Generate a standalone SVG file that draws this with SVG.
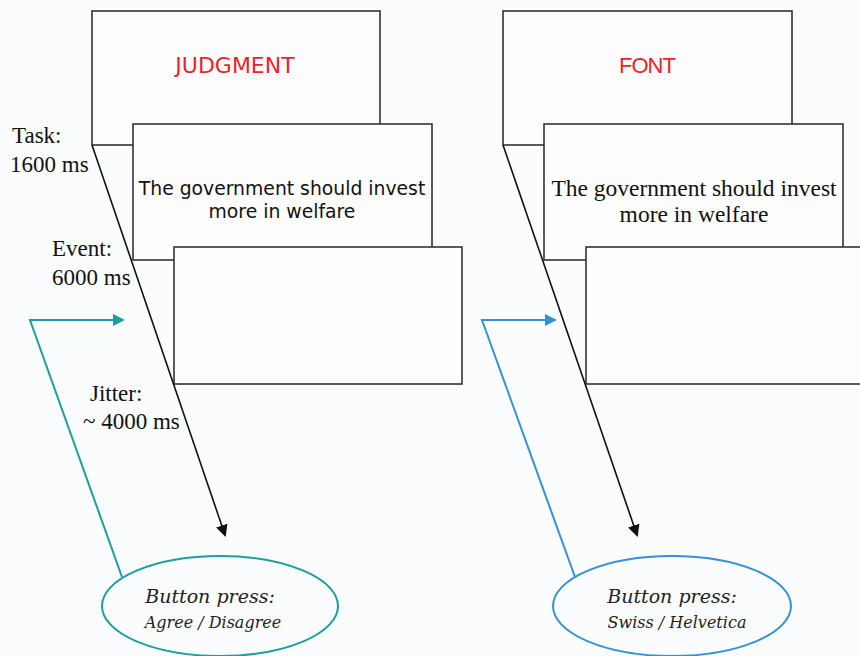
<svg xmlns="http://www.w3.org/2000/svg" width="860" height="656" viewBox="0 0 860 656">
<defs>
<style>
.box{fill:#fdfdfe;stroke:#333;stroke-width:1.6}
.lbl{font-family:"Liberation Serif",serif;font-size:23px;fill:#111}
.title{font-family:"DejaVu Sans",sans-serif;font-size:22px;fill:#e8242a;text-anchor:middle}
.stmtS{font-family:"DejaVu Sans",sans-serif;font-size:18.8px;fill:#111;text-anchor:middle}
.stmtT{font-family:"Liberation Serif",serif;font-size:23.5px;fill:#111;text-anchor:middle}
.btn{font-family:"DejaVu Serif","Liberation Serif",serif;font-style:italic;text-anchor:middle;fill:#222}
.tl{fill:none;stroke:#111;stroke-width:1.6}
</style>
<marker id="ab" markerWidth="12" markerHeight="12" refX="10" refY="6" orient="auto" markerUnits="userSpaceOnUse"><path d="M0,0 L12,6 L0,12 z" fill="#111"/></marker>
<marker id="at" markerWidth="12" markerHeight="12" refX="10" refY="6" orient="auto" markerUnits="userSpaceOnUse"><path d="M0,0 L12,6 L0,12 z" fill="#1a9ea2"/></marker>
<marker id="abl" markerWidth="12" markerHeight="12" refX="10" refY="6" orient="auto" markerUnits="userSpaceOnUse"><path d="M0,0 L12,6 L0,12 z" fill="#3690d4"/></marker>
</defs>
<rect width="860" height="656" fill="#fbfcfd"/>
<g id="judgment-task">
<rect class="box" x="92" y="11" width="288" height="134"/>
<text class="title" x="235" y="73">JUDGMENT</text>
</g>
<g id="judgment-event">
<rect class="box" x="133" y="124" width="299" height="136"/>
<text class="stmtS" x="282" y="195">The government should invest</text>
<text class="stmtS" x="282" y="218">more in welfare</text>
</g>
<g id="judgment-jitter">
<rect class="box" x="174" y="247" width="288" height="137"/>
</g>
<g id="font-task">
<rect class="box" x="503" y="11" width="289" height="134"/>
<text class="title" x="647" y="73" style="font-family:'Liberation Sans',sans-serif;letter-spacing:-1px">FONT</text>
</g>
<g id="font-event">
<rect class="box" x="544" y="124" width="299" height="136"/>
<text class="stmtT" x="694" y="196">The government should invest</text>
<text class="stmtT" x="694" y="222">more in welfare</text>
</g>
<g id="font-jitter">
<rect class="box" x="586" y="247" width="290" height="137"/>
</g>
<g id="labels">
<text class="lbl" x="12" y="143">Task:</text>
<text class="lbl" x="10" y="172">1600 ms</text>
<text class="lbl" x="52" y="256">Event:</text>
<text class="lbl" x="52" y="285">6000 ms</text>
<text class="lbl" x="90" y="401">Jitter:</text>
<text class="lbl" x="83" y="429">~ 4000 ms</text>
</g>
<g id="judgment-button">
<ellipse cx="220" cy="606" rx="118" ry="50" fill="none" stroke="#1a9ea2" stroke-width="2"/>
<text class="btn" x="210" y="603" font-size="19">Button press:</text>
<text class="btn" x="213" y="628" font-size="16">Agree / Disagree</text>
</g>
<g id="font-button">
<ellipse cx="672" cy="606" rx="119" ry="50" fill="none" stroke="#3690d4" stroke-width="2"/>
<text class="btn" x="672" y="603" font-size="19">Button press:</text>
<text class="btn" x="677" y="628" font-size="16">Swiss / Helvetica</text>
</g>
<g id="connectors">
<line class="tl" x1="92" y1="145" x2="225" y2="535" marker-end="url(#ab)"/>
<line class="tl" x1="503" y1="145" x2="637" y2="535" marker-end="url(#ab)"/>
<polyline points="122,577 30,320 123,320" fill="none" stroke="#1a9ea2" stroke-width="2" marker-end="url(#at)"/>
<polyline points="575,577 482,320 555,320" fill="none" stroke="#3690d4" stroke-width="2" marker-end="url(#abl)"/>
</g>
</svg>
